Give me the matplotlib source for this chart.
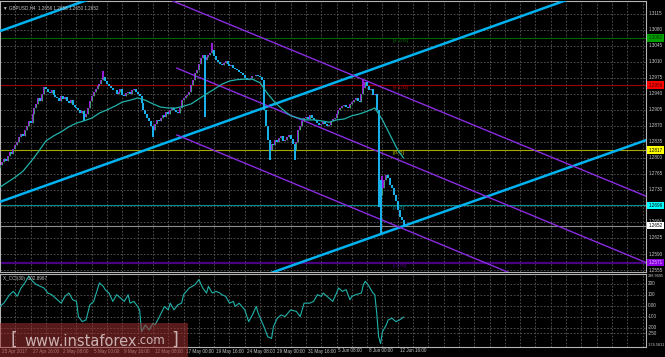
import numpy as np
import matplotlib.pyplot as plt
from matplotlib.transforms import blended_transform_factory

W, H = 665, 357

# H4 closes, in pips above 1.0000 (2784 -> 1.2784)
close_pips = [
    2784, 2790, 2798, 2793, 2805, 2812, 2808, 2820, 2828, 2835,
    2845, 2852, 2848, 2862, 2870, 2880, 2876, 2895, 2910, 2918,
    2930, 2925, 2940, 2955, 2950, 2945, 2942, 2948, 2938, 2933,
    2930, 2925, 2935, 2928, 2932, 2924, 2920, 2926, 2915, 2912,
    2908, 2904, 2898, 2902, 2890, 2895, 2910, 2925, 2935, 2945,
    2950, 2958, 2962, 2970, 2976, 2968, 2962, 2958, 2952, 2948,
    2948, 2940, 2944, 2950, 2938, 2935, 2942, 2945, 2940, 2948,
    2950, 2944, 2940, 2936, 2920, 2905, 2895, 2888, 2880, 2870,
    2862, 2875, 2883, 2880, 2888, 2894, 2890, 2900, 2896, 2905,
    2909, 2904, 2900, 2898, 2910, 2926, 2930, 2935, 2937, 2945,
    2959, 2970, 2985, 2992, 3005, 3018, 3025, 3014, 3020, 3025,
    3030, 3036, 3022, 3014, 3010, 3005, 3003, 3008, 3012, 3006,
    3000, 3002, 2996, 2994, 2992, 2988, 2985, 2981, 2975, 2970,
    2972, 2975, 2978, 2980, 2982, 2978, 2976, 2970, 2905, 2870,
    2839, 2817, 2830, 2828, 2840, 2835, 2843, 2848, 2838, 2839,
    2845, 2850, 2842, 2830, 2817, 2835, 2861, 2870, 2880, 2887,
    2890, 2885, 2894, 2888, 2883, 2880, 2876, 2872, 2875, 2878,
    2874, 2870, 2872, 2880, 2885, 2887, 2896, 2905, 2910, 2914,
    2916, 2912, 2909, 2918, 2922, 2926, 2930, 2925, 2922, 2940,
    2953, 2965, 2958, 2948, 2950, 2937, 2940, 2905, 2752, 2719,
    2735, 2752, 2763, 2755, 2741, 2735, 2719, 2705, 2686, 2670,
    2664, 2652,
]
first_open = 2778
spike_high = {54: 2990, 111: 3051, 190: 2970, 200: 2760}
spike_low = {44: 2880, 80: 2845, 107: 2889, 141: 2795, 154: 2795, 198: 2693, 199: 2636}

ma_bars = [0, 4, 8, 12, 16, 20, 24, 28, 32, 36, 40, 44, 48, 52, 56, 60, 64, 68,
           72, 76, 80, 84, 88, 92, 96, 100, 104, 108, 112, 116, 120, 124, 128,
           132, 136, 140, 144, 148, 152, 156, 160, 164, 168, 172, 176, 180, 184,
           188, 192, 196, 200, 204, 208, 211]
ma_pips = [2736, 2747, 2758, 2771, 2791, 2813, 2837, 2848, 2857, 2868, 2876,
           2881, 2887, 2898, 2905, 2913, 2922, 2926, 2931, 2926, 2918, 2911,
           2909, 2909, 2913, 2918, 2929, 2940, 2950, 2961, 2968, 2971, 2972,
           2972, 2964, 2940, 2920, 2905, 2892, 2887, 2883, 2883, 2881, 2878,
           2883, 2885, 2892, 2896, 2902, 2909, 2883, 2850, 2817, 2800]

cci_bars = [0, 2, 5, 7, 9, 11, 13, 15, 17, 19, 21, 23, 25, 27, 30, 32, 34, 36,
            38, 40, 41, 43, 45, 47, 49, 52, 54, 55, 57, 59, 61, 62, 65, 67, 68,
            70, 72, 73, 74, 76, 78, 80, 81, 83, 86, 88, 89, 91, 93, 95, 96, 99,
            102, 104, 106, 108, 109, 111, 113, 115, 116, 118, 120, 122, 123,
            125, 128, 130, 132, 134, 135, 138, 140, 142, 143, 145, 147, 149,
            152, 155, 157, 159, 162, 164, 166, 168, 169, 171, 174, 176, 177,
            179, 181, 183, 184, 186, 189, 190, 191, 193, 195, 196, 197, 198,
            199, 200, 202, 203, 205, 207, 209, 211]
cci_vals = [-6, 24, 101, 131, 86, 162, 208, 269, 223, 193, 177, 162, 116, 101,
            55, 24, 86, 116, 55, 40, -98, -144, -128, 9, 40, 208, 177, 147, 116,
            40, 101, 86, 40, 101, 24, 40, -6, -37, -235, -174, -220, -159, -174,
            -113, -6, -37, 24, -37, 9, 24, 101, 162, 193, 238, 162, 116, 177,
            116, 131, 116, 101, 86, 24, 40, -6, 24, -37, -144, -83, -6, -67,
            -189, -281, -297, -189, -113, -83, -98, -37, -52, -98, 24, 24, 40,
            101, 86, 116, 86, 40, 116, 162, 131, 147, 55, 86, 101, 116, 193,
            223, 177, 116, 101, -67, -281, -343, -235, -174, -128, -113, -144,
            -128, -103]

# horizontal levels: price, line colour, box colour, box text colour, tag
levels = [
    (1.3062, '#006400', '#00a000', '#003000', '[+2/8]'),
    (1.2959, '#9a0000', '#ff0000', '#400000', '[+1/8]'),
    (1.2817, '#a8a800', '#ffff00', '#000000', '[8/8]'),
    (1.2696, '#008b8b', '#00ffff', '#000000', '[7/8]'),
    (1.2571, '#4b0082', '#8a00e0', '#e0c0ff', '[-1/8]'),
]
bid = 1.2652

price_ticks = [1.3115, 1.3080, 1.3045, 1.3010, 1.2975, 1.2940, 1.2905, 1.2870,
               1.2835, 1.2800, 1.2765, 1.2730, 1.2695, 1.2660, 1.2625, 1.2590,
               1.2555]
time_labels = ['25 Apr 2017', '27 Apr 16:00', '2 May 08:00', '5 May 00:00',
               '9 May 16:00', '12 May 08:00', '17 May 00:00', '19 May 16:00',
               '24 May 08:00', '29 May 00:00', '31 May 16:00', '5 Jun 08:00',
               '8 Jun 00:00', '12 Jun 16:00']

# channel lines (bar, price) pairs
blue_lines = [((0, 1.3077), (338, 1.3581)),
              ((0, 1.2704), (338, 1.3207)),
              ((0, 1.2339), (338, 1.2839))]
purple_lines = [((85, 1.3152), (338, 1.2716)),
                ((92.5, 1.2996), (338, 1.2571)),
                ((92.5, 1.2850), (338, 1.2425))]

FONT = ['Liberation Sans', 'DejaVu Sans']
FS = 3.3
TXT = '#c8c8c8'

def fx(px):
    return px / W

def fy(py):
    return 1 - py / H

fig = plt.figure(figsize=(W / 100, H / 100), dpi=100, facecolor='black')
ax = fig.add_axes([fx(0), fy(272), fx(646), fy(1) - fy(272)], facecolor='black')
ax2 = fig.add_axes([fx(0), fy(347), fx(646), fy(274) - fy(347)], facecolor='black')

xmin, xmax = 0, 337.8
for a in (ax, ax2):
    a.set_xlim(xmin, xmax)
    for s in a.spines.values():
        s.set_color('#b4b4b4')
        s.set_linewidth(0.8)
    a.tick_params(left=False, bottom=False, labelleft=False, labelbottom=False)
    for b in np.arange(8, 338, 8):
        a.axvline(b, color='#5a5a5a', lw=0.6, ls=(0, (2, 2)), zorder=0)

ymin, ymax = 1.25507, 1.31428
ax.set_ylim(ymin, ymax)
for p in price_ticks:
    ax.axhline(p, color='#5a5a5a', lw=0.6, ls=(0, (2, 2)), zorder=0)

# levels
for p, lc, bc, tc, tag in levels:
    lw = 1.6 if lc == '#4b0082' else 0.8
    ax.axhline(p, color=lc, lw=lw, zorder=1)
    ax.text(205.5, p, tag, color=lc, fontsize=4.5, va='top', ha='left',
            family=FONT, zorder=2)
ax.axhline(bid, color='#8c8c8c', lw=0.8, zorder=1)

# channels
for (x0, y0), (x1, y1) in blue_lines:
    ax.plot([x0, x1], [y0, y1], color='#00b2f0', lw=1.8, zorder=3,
            solid_capstyle='butt')
for (x0, y0), (x1, y1) in purple_lines:
    ax.plot([x0, x1], [y0, y1], color='#8a2be2', lw=1.0, zorder=3)

# candles
c = np.array(close_pips) / 1e4 + 1
o = np.concatenate([[first_open / 1e4 + 1], c[:-1]])
bars = np.arange(len(c))
hi = np.maximum(o, c)
lo = np.minimum(o, c)
for b, v in spike_high.items():
    hi[b] = v / 1e4 + 1
for b, v in spike_low.items():
    lo[b] = v / 1e4 + 1
up = c >= o
ax.vlines(bars[up], lo[up], hi[up], color='#9a1ee0', lw=1.4, zorder=4)
ax.vlines(bars[up], np.minimum(o, c)[up], np.maximum(o, c)[up],
          color='#20d040', lw=0.5, zorder=5)
ax.vlines(bars[~up], lo[~up], hi[~up], color='#1ab4f0', lw=1.4, zorder=4)

ma = np.array(ma_pips) / 1e4 + 1
ax.plot(ma_bars, ma, color='#20b2aa', lw=0.9, zorder=6)

# price axis
tr = blended_transform_factory(ax.transAxes, ax.transData)
for p in price_ticks:
    ax.text(1.004, p, f'{p:.4f}', transform=tr, color=TXT, fontsize=FS,
            va='center', ha='left', family=FONT, clip_on=False)
for p, lc, bc, tc, tag in levels:
    ax.text(1.004, p, f'{p:.4f}', transform=tr, color=tc, fontsize=FS,
            va='center', ha='left', family=FONT, clip_on=False, zorder=10,
            bbox=dict(boxstyle='square,pad=0.25', fc=bc, ec='none'))
ax.text(1.004, bid, f'{bid:.4f}', transform=tr, color='black', fontsize=FS,
        va='center', ha='left', family=FONT, clip_on=False, zorder=10,
        bbox=dict(boxstyle='square,pad=0.25', fc='white', ec='none'))

ax.text(0.005, 0.985, '\u25bc GBPUSD,H4  1.2656 1.2656 1.2650 1.2652',
        transform=ax.transAxes, color=TXT, fontsize=FS, va='top', ha='left',
        family=FONT)

# CCI
ax2.set_ylim(-374.5811, 288.9695)
for v in [200, 100, 0, -100, -200, -250]:
    ax2.axhline(v, color='#5a5a5a', lw=0.6, ls=(0, (2, 2)), zorder=0)
ax2.plot(cci_bars, cci_vals, color='#20b2aa', lw=0.8, zorder=3)
tr2 = blended_transform_factory(ax2.transAxes, ax2.transData)
for v, s, va in [(288.9695, '288.9695', 'top'), (200, '200', 'center'),
                 (100, '100', 'center'), (0, '0.00', 'center'),
                 (-100, '-100', 'center'), (-200, '-200', 'center'),
                 (-250, '-250', 'center'), (-374.5811, '-374.5811', 'bottom')]:
    ax2.text(1.003, v, s, transform=tr2, color=TXT,
             fontsize=FS if len(s) < 6 else 2.8, va=va,
             ha='left', family=FONT, clip_on=False)
ax2.text(0.005, 0.97, 'X_CCI(30) -102.8967', transform=ax2.transAxes,
         color=TXT, fontsize=FS, va='top', ha='left', family=FONT)

# time axis
tr3 = blended_transform_factory(ax2.transData, fig.transFigure)
for i, s in enumerate(time_labels):
    ax2.text(i * 16 + 1, fy(348.5), s, transform=tr3, color=TXT, fontsize=FS,
             va='top', ha='left', family=FONT, clip_on=False)

# watermark
fig.patches.append(plt.Rectangle((0, 0), fx(188), fy(323),
                                 transform=fig.transFigure, fc='#a03030',
                                 alpha=0.55, ec='none', zorder=20))
wm = dict(color='#e8d8d8', alpha=0.8, zorder=21)
t0 = fig.text(fx(10), fy(340), '[', fontsize=12.5, va='center', ha='left', **wm)
t1 = fig.text(fx(24), fy(341), 'www.instaforex', fontsize=10.5,
              va='center', ha='left', **wm)
t2 = fig.text(0, 0, '.com', fontsize=8.5, va='bottom', ha='left', **wm)
fig.canvas.draw()
bb = t1.get_window_extent().transformed(fig.transFigure.inverted())
t2.set_position((bb.x1, bb.y0 + 0.004))
bb2 = t2.get_window_extent().transformed(fig.transFigure.inverted())
fig.text(bb2.x1 + fx(6), fy(340), ']', fontsize=12.5, va='center', ha='left', **wm)

fig.savefig('out.png', dpi=100, facecolor='black')
